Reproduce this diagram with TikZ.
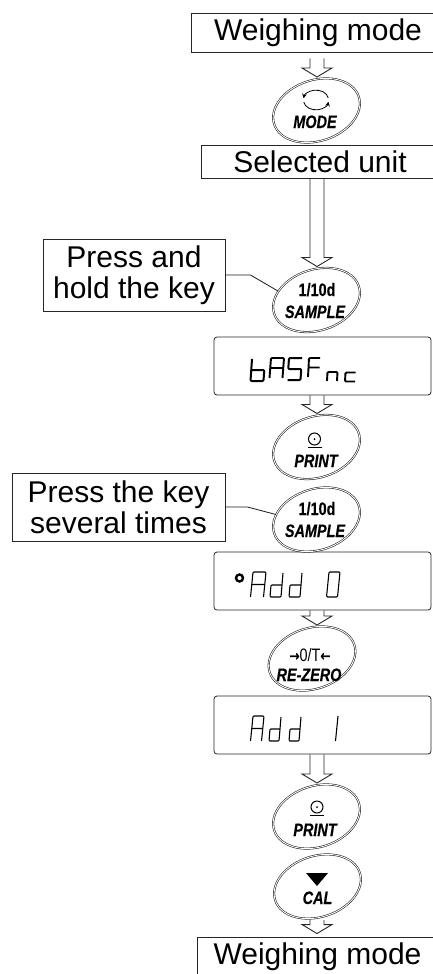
\documentclass[tikz,border=0pt]{standalone}
\usepackage{fontspec}
\setmainfont{Liberation Sans}
\newfontfamily\arrowfont[FakeBold=1.5]{DejaVu Sans}
\usetikzlibrary{backgrounds,shapes.geometric,calc,arrows.meta}
\tikzset{
  labelbox/.style={draw=black!85,line width=.9pt,fill=white,inner sep=0pt,align=center,font=\fontsize{30}{31}\selectfont},
  lcdbox/.style={draw=black!85,line width=.8pt,rounded corners=3pt,fill=white,minimum width=217pt,minimum height=58pt,inner sep=0pt},
  keyoval/.style={ellipse,draw=black!90,fill=white,line width=.55pt,double=white,double distance=.9pt,minimum width=89pt,minimum height=61pt,inner sep=0pt,rotate=18},
  keytext/.style={inner sep=0pt,anchor=base,xscale=.8,font=\fontsize{18}{18}\selectfont\bfseries\itshape\addfontfeature{FakeBold=0.5}},
  keytop/.style={inner sep=0pt,anchor=base,xscale=.8,font=\fontsize{18}{18}\selectfont\bfseries\addfontfeature{FakeBold=0.5}},
  keymid/.style={inner sep=0pt,anchor=base,xscale=.8,font=\fontsize{18}{18}\selectfont},
  hollowarrow/.style={draw=black!85,line width=.9pt,fill=white,line join=miter},
  leader/.style={draw=black!90,line width=.8pt},
  lcdglyph/.style={draw=black,line width=#1,line cap=butt,line join=round,rounded corners=1pt},
  lcdglyph/.default=1.2pt
}
\newcommand{\harrow}[2]{%
  \begin{pgfonlayer}{background}
  \path[hollowarrow] let \p1=(#1), \p2=(#2) in
    (\x1-7pt,\y1) -- (\x1-7pt,\y2+9pt) -- (\x1-15pt,\y2+9pt) -- (\x2,\y2)
    -- (\x1+15pt,\y2+9pt) -- (\x1+7pt,\y2+9pt) -- (\x1+7pt,\y1);
  \end{pgfonlayer}}
\newcommand{\keyoval}[3]{%
  \node[keyoval] (#1) at (#2,#3) {};
  \coordinate (#1-t) at (#2,#3-33.5);
  \coordinate (#1-b) at (#2,#3+33.5);}
\newcommand{\printicon}[3]{%
  \node[draw=black,line width=1pt,circle,minimum size=12pt,inner sep=0pt] (#1) at (#2,#3) {};
  \fill[black] (#1.center) circle (1pt);
  \draw[black,line width=1.2pt] ([xshift=-7pt,yshift=-8.5pt]#1.center) -- ([xshift=7pt,yshift=-8.5pt]#1.center);}
% glyphs on a unit square, y measured downwards
\newcommand{\lcd}[7]{% x, y, w, h, lw, slant, path
  \begin{scope}[shift={(#1,#2)},x=#3pt,y={(#6pt,-#4pt)}]
    \draw[lcdglyph=#5] #7;
  \end{scope}}
\def\gA{(0,1)--(0,0)--(1,0)--(1,1) (0,.5)--(1,.5)}
\def\gB{(0,0)--(0,1)--(1,1)--(1,.5)--(0,.5)}
\def\gS{(1,0)--(0,0)--(0,.5)--(1,.5)--(1,1)--(0,1)}
\def\gF{(1,0)--(0,0)--(0,1) (0,.5)--(1,.5)}
\def\gN{(0,1)--(0,0)--(1,0)--(1,1)}
\def\gC{(1,0)--(0,0)--(0,1)--(1,1)}
\def\gD{(1,0)--(1,1)--(0,1)--(0,.5)--(1,.5)}
\def\gO{(0,0)--(1,0)--(1,1)--(0,1)--cycle}
\def\gI{(0,0)--(0,1)}
\begin{document}
\begin{tikzpicture}[x=1pt,y=-1pt]
\useasboundingbox (0,0) rectangle (433,974);
\coordinate (axis) at (317,0);

% text boxes
\node[labelbox,minimum width=254pt,minimum height=39pt] (wtop) at (318,32.5) {Weighing mode};
\node[labelbox,minimum width=238pt,minimum height=33pt] (unit) at (320,161.5) {Selected unit};
\node[labelbox,minimum width=241pt,minimum height=39pt] (wbot) at (317.5,956.5) {Weighing mode};
\node[labelbox,minimum width=182pt,minimum height=72pt] (hold) at (134,275) {Press and\\hold the key};
\node[labelbox,minimum width=213pt,minimum height=68pt] (several) at (118.5,507) {Press the key\\several times};

% displays
\node[lcdbox] (d1) at (322.5,366) {};
\node[lcdbox] (d2) at (322.5,581) {};
\node[lcdbox] (d3) at (322.5,725) {};

% keys
\keyoval{mode}{316.5}{110.5}
\keyoval{sampleA}{316.5}{300}
\keyoval{printA}{316.5}{447}
\keyoval{sampleB}{316.5}{519.5}
\keyoval{rezero}{312}{658.5}
\keyoval{printB}{316.5}{816.5}
\keyoval{cal}{317.5}{886.5}

% hollow arrows
\coordinate (wtop-s) at ($(axis |- wtop.south)+(0,6)$);
\harrow{wtop-s}{axis |- mode-t}
\harrow{axis |- unit.south}{axis |- sampleA-t}
\harrow{axis |- d1.south}{axis |- printA-t}
\harrow{axis |- d2.south}{axis |- rezero-t}
\harrow{axis |- d3.south}{axis |- printB-t}
\harrow{axis |- cal-b}{$(axis |- wbot.north)+(0,-3)$}

% leaders
\coordinate (holdbend) at ($(hold.east)+(25,0)$);
\coordinate (sevbend) at ($(several.east)+(22,0)$);
\draw[leader] (hold.east) -- (holdbend) -- (sampleA.149);
\draw[leader] (several.east) -- (sevbend) -- (sampleB.155);

% key labels
\node[keytext] (tmode) at (315,128) {MODE};
\draw[black,line width=.8pt,-{Stealth[length=4.5pt,width=4.5pt]}] (328.3,98) arc[start angle=10,end angle=172,x radius=12.5pt,y radius=9.5pt];
\draw[black,line width=.8pt,-{Stealth[length=4.5pt,width=4.5pt]}] (303.7,102) arc[start angle=190,end angle=352,x radius=12.5pt,y radius=9.5pt];
\node[keytop] (t1a) at (317,296) {1/10d};
\node[keytext] (t1b) at (315,318) {SAMPLE};
\printicon{picA}{314.5}{439}
\node[keytext] (tpA) at (316,467) {PRINT};
\node[keytop] (t2a) at (317,515) {1/10d};
\node[keytext] (t2b) at (315,537) {SAMPLE};
\node[keymid] (trz) at (310,661) {{\arrowfont\fontsize{15}{15}\selectfont →}0/T{\arrowfont\fontsize{15}{15}\selectfont ←}};
\node[keytext] (trzb) at (309,681) {RE-ZERO};
\printicon{picB}{317}{807}
\node[keytext] (tpB) at (315,836) {PRINT};
\fill[black] (306,873) -- (328,873) -- (317,886) -- cycle;
\node[keytext] (tcal) at (317.5,904) {CAL};

% LCD glyphs: bASFnc
\lcd{252}{359}{13}{22}{2pt}{-1.5}{\gB}
\lcd{271}{358}{13}{20}{1.9pt}{-1.5}{\gA}
\lcd{289}{358}{13}{22}{2pt}{-1.5}{\gS}
\lcd{309}{358}{11}{19}{1.9pt}{-1}{\gF}
\lcd{327.5}{372}{10}{9}{1.9pt}{-.5}{\gN}
\lcd{345.5}{372.5}{10}{9}{1.9pt}{-.5}{\gC}

% LCD glyphs: Add 0
\node[draw=black,line width=2.4pt,circle,minimum size=7pt,inner sep=0pt] (dot) at (239.5,578) {};
\lcd{253}{572}{13}{25}{1.1pt}{-2.5}{\gA}
\lcd{272}{573}{11}{24}{1.1pt}{-2}{\gD}
\lcd{291}{573}{11}{24}{1.1pt}{-2}{\gD}
\lcd{329}{572}{11}{25}{1.1pt}{-2.5}{\gO}

% LCD glyphs: Add 1
\lcd{253}{716}{11}{25}{1.1pt}{-2.5}{\gA}
\lcd{271}{717}{10}{24}{1.1pt}{-2}{\gD}
\lcd{291}{717}{10}{24}{1.1pt}{-2}{\gD}
\lcd{338}{716}{10}{25}{1.1pt}{-2.5}{\gI}
\end{tikzpicture}
\end{document}
